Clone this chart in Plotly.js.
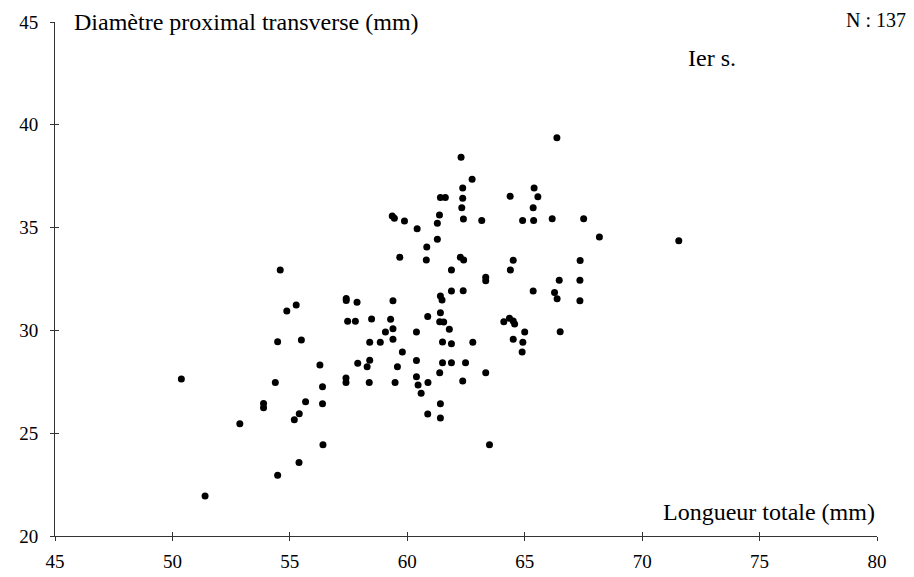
<!DOCTYPE html>
<html>
<head>
<meta charset="utf-8">
<script src="https://cdn.plot.ly/plotly-3.0.1.min.js"></script>
<style>html,body{margin:0;padding:0;background:#fff;}#chart{width:914px;height:577px;}</style>
</head>
<body>
<div id="chart"></div>
<script>
// Longueur totale (mm)
const longueur = [
  54.59,57.40,57.40,55.27,54.87,57.46,57.79,54.48,55.49,56.28,50.38,54.38,56.39,57.39,57.39,53.88,53.88,55.67,56.39,55.40,55.19,52.87,56.41,55.39,54.48,51.39,
  59.36,59.45,59.88,60.42,61.37,61.28,62.39,63.17,64.91,61.28,60.83,60.81,59.68,62.26,62.40,64.51,64.39,61.88,63.34,63.34,61.88,62.38,61.41,61.48,57.86,59.39,
  58.48,59.29,60.87,61.41,61.38,61.55,59.39,59.07,59.39,60.39,61.79,58.40,58.85,61.50,61.88,62.79,59.79,64.11,64.35,64.51,64.57,65.00,64.51,64.92,64.89,
  57.89,58.40,58.29,59.58,60.39,61.50,61.88,62.48,61.38,63.34,58.38,59.48,60.39,60.46,60.88,62.36,60.59,61.41,60.87,61.41,63.50,
  66.37,65.40,64.38,65.56,65.36,65.38,66.17,67.51,68.18,71.56,67.36,66.47,67.35,65.36,66.27,66.38,67.35,66.51,
  62.29,62.76,62.36,61.41,61.62,62.36,62.32
];
// Diamètre proximal transverse (mm)
const diametre = [
  32.94,31.55,31.45,31.24,30.94,30.45,30.45,29.45,29.53,28.32,27.64,27.46,27.26,27.68,27.46,26.45,26.24,26.53,26.43,25.95,25.66,25.46,24.44,23.57,22.95,21.95,
  35.56,35.45,35.32,34.95,35.61,35.21,35.42,35.34,35.34,34.43,34.06,33.42,33.56,33.56,33.42,33.41,32.94,32.94,32.58,32.42,31.92,31.93,31.67,31.48,31.37,31.44,
  30.55,30.54,30.67,30.86,30.42,30.41,30.08,29.92,29.57,29.92,30.05,29.42,29.42,29.44,29.35,29.42,28.95,30.42,30.59,30.46,30.31,29.92,29.57,29.42,28.95,
  28.40,28.55,28.23,28.23,28.53,28.43,28.43,28.43,27.94,27.94,27.46,27.46,27.75,27.34,27.46,27.54,26.94,26.43,25.93,25.74,24.44,
  39.37,36.93,36.52,36.50,35.97,35.35,35.43,35.43,34.54,34.36,33.40,32.44,32.44,31.92,31.84,31.54,31.44,29.94,
  38.42,37.35,36.93,36.46,36.46,36.43,35.97
];
const xTicks = [45, 50, 55, 60, 65, 70, 75, 80];
const yTicks = [20, 25, 30, 35, 40, 45];
const yTitle = 'Diamètre proximal transverse (mm)';
const xTitle = 'Longueur totale (mm)';
const nLabel = 'N : 137';
const periodLabel = 'Ier s.';

const FONT = 'Liberation Serif';
const axisCommon = {
  showgrid: false, zeroline: false, showline: true, linecolor: '#333', linewidth: 1,
  ticks: 'outside', ticklen: 4, tickcolor: '#333', tickwidth: 1,
  tickfont: {family: FONT, size: 19, color: '#000'}, fixedrange: true
};

const data = [{
  type: 'scatter', mode: 'markers', x: longueur, y: diametre,
  marker: {color: '#000', size: 7, line: {width: 0}},
  hoverinfo: 'x+y', showlegend: false
}];

const layout = {
  width: 914, height: 577,
  margin: {l: 55, r: 37, t: 22, b: 41},
  paper_bgcolor: '#fff', plot_bgcolor: '#fff',
  font: {family: FONT, color: '#000'},
  xaxis: Object.assign({}, axisCommon, {range: [45, 80], tickvals: xTicks, ticktext: xTicks.map(String), ticklabelstandoff: 4}),
  yaxis: Object.assign({}, axisCommon, {range: [20, 45], tickvals: yTicks, ticktext: yTicks.map(String), ticklabelstandoff: 8}),
  xaxis2: {overlaying: 'x', range: [45, 80], tickvals: xTicks, ticks: 'inside', ticklen: 4, tickcolor: '#333', showticklabels: false, showline: false, showgrid: false, zeroline: false, fixedrange: true},
  yaxis2: {overlaying: 'y', range: [20, 45], tickvals: yTicks, ticks: 'inside', ticklen: 4, tickcolor: '#333', showticklabels: false, showline: false, showgrid: false, zeroline: false, fixedrange: true},
  annotations: [
    {text: yTitle, xref: 'paper', yref: 'paper', x: 0.0207, y: 1.0, xanchor: 'left', yanchor: 'middle', showarrow: false, font: {family: FONT, size: 24, color: '#000'}},
    {text: nLabel, xref: 'paper', yref: 'paper', x: 1.0377, y: 1.004, xanchor: 'right', yanchor: 'middle', showarrow: false, font: {family: FONT, size: 20, color: '#000'}},
    {text: periodLabel, xref: 'paper', yref: 'paper', x: 0.799, y: 0.930, xanchor: 'center', yanchor: 'middle', showarrow: false, font: {family: FONT, size: 24, color: '#000'}},
    {text: xTitle, xref: 'paper', yref: 'paper', x: 1.0, y: 0.047, xanchor: 'right', yanchor: 'middle', showarrow: false, font: {family: FONT, size: 24, color: '#000'}}
  ]
};
// empty trace to activate overlay axes for crossing tick marks
data.push({type: 'scatter', mode: 'markers', x: [], y: [], xaxis: 'x2', yaxis: 'y2', showlegend: false, hoverinfo: 'skip'});

Plotly.newPlot('chart', data, layout, {displayModeBar: false, staticPlot: true});
</script>
</body>
</html>
